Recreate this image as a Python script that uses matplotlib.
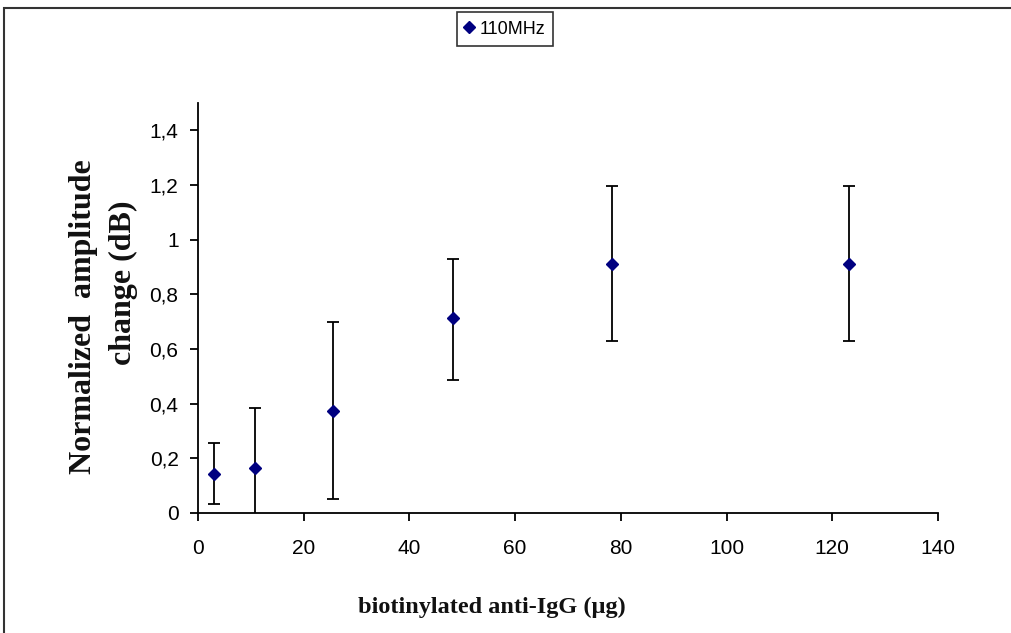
"""Normalized amplitude change vs. biotinylated anti-IgG amount (110 MHz)."""

import matplotlib

matplotlib.use("Agg")
import matplotlib.pyplot as plt
from matplotlib.lines import Line2D
from matplotlib.patches import Rectangle
from matplotlib.ticker import FuncFormatter

# Data
amount_ug = [3.0, 10.8, 25.5, 48.3, 78.3, 123.2]
amplitude_db = [0.143, 0.165, 0.374, 0.713, 0.910, 0.910]
err_upper = [0.114, 0.22, 0.326, 0.217, 0.288, 0.288]
err_lower = [0.110, 0.22, 0.323, 0.226, 0.280, 0.280]
series_label = "110MHz"

x_ticks = [0, 20, 40, 60, 80, 100, 120, 140]
y_ticks = [0, 0.2, 0.4, 0.6, 0.8, 1.0, 1.2, 1.4]

NAVY = "#000080"
W, H = 1012, 633
fig = plt.figure(figsize=(W / 100, H / 100), dpi=100)
ax = fig.add_axes([198 / W, 1 - 513 / H, 740 / W, 410 / H])

ax.errorbar(
    amount_ug,
    amplitude_db,
    yerr=[err_lower, err_upper],
    fmt="D",
    color=NAVY,
    markersize=6,
    ecolor="black",
    elinewidth=1.3,
    capsize=4.5,
    capthick=1.3,
)

ax.set_xlim(0, 140)
ax.set_ylim(0, 1.5)
ax.set_xticks(x_ticks)
ax.set_yticks(y_ticks)
ax.yaxis.set_major_formatter(
    FuncFormatter(lambda v, _: f"{v:g}".replace(".", ","))
)

for side in ("top", "right"):
    ax.spines[side].set_visible(False)
for side in ("left", "bottom"):
    ax.spines[side].set_linewidth(1.3)

ax.tick_params(
    direction="out", length=6, width=1.3, labelsize=15, pad=8,
    labelfontfamily="Liberation Sans",
)
ax.tick_params(axis="x", pad=13)

serif = dict(family="Liberation Serif", fontweight="bold", color="#111111")
fig.text(492 / W, 1 - 607 / H, "biotinylated anti-IgG (µg)",
         ha="center", va="center", fontsize=17.5, **serif)
fig.text(84 / W, 1 - 317 / H, "Normalized  amplitude", rotation=90,
         ha="center", va="center", fontsize=23, **serif)
fig.text(123 / W, 1 - 283 / H, "change (dB)", rotation=90,
         ha="center", va="center", fontsize=23, **serif)

# legend shows the marker only
handle = Line2D([], [], linestyle="none", marker="D", color=NAVY, markersize=6)
leg = fig.legend(
    [handle], [series_label],
    loc="center", bbox_to_anchor=(505 / W, 1 - 29 / H),
    frameon=True, fancybox=False, edgecolor="black",
    prop={"family": "Liberation Sans", "size": 13},
    handlelength=0.5, handletextpad=0.3, borderpad=0.45, borderaxespad=0,
)
leg.get_frame().set_linewidth(1.2)

# outer chart border (cut off at the right and bottom)
fig.patches.append(
    Rectangle((4 / W, -0.1), 1.2, 1 - 8 / H + 0.1, transform=fig.transFigure,
              fill=False, edgecolor="#333333", linewidth=1.5)
)

fig.savefig("out.png", dpi=100)
